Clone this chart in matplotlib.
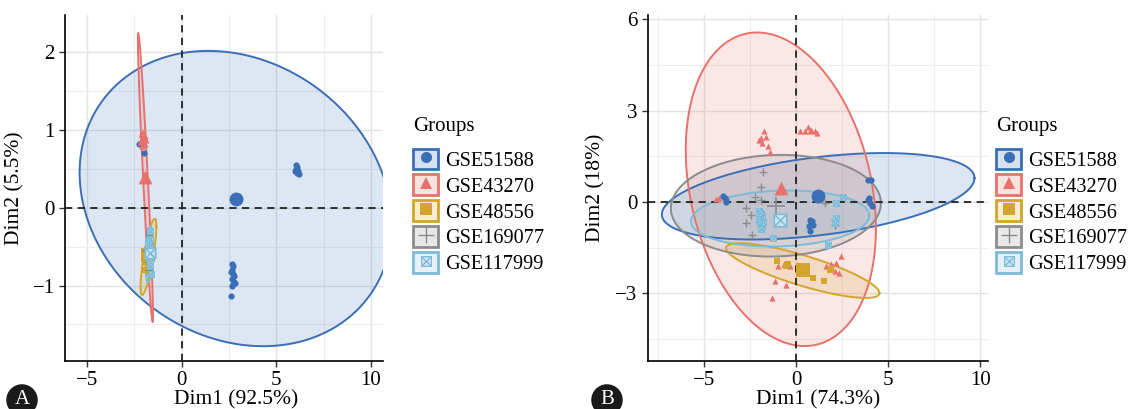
import numpy as np
import matplotlib
matplotlib.use("Agg")
import matplotlib.pyplot as plt
from matplotlib.path import Path
from matplotlib.patches import Rectangle
from matplotlib.lines import Line2D
from matplotlib.legend_handler import HandlerTuple

plt.rcParams['font.family'] = ['Liberation Serif', 'DejaVu Serif']

# ---------------- data ----------------
groups = ["GSE51588", "GSE43270", "GSE48556", "GSE169077", "GSE117999"]
colors = ["#3A6FB8", "#E8716B", "#D4A52C", "#8C8C8C", "#7DBCD9"]

# Panel A individual points
a_x = {
    "GSE51588": [-2.25, -2.0, 2.65, 2.72, 2.68, 2.62, 2.70, 2.75, 2.66, 2.78, 2.70, 2.82, 2.68, 2.62,
                 6.05, 6.10, 6.02, 6.12, 6.08, 6.20, 6.00],
    "GSE43270": [-2.15, -2.05, -1.95, -2.10, -2.00, -1.90, -2.20, -2.05, -1.95, -2.12],
    "GSE48556": [-1.85, -1.80, -1.75, -1.90, -1.80, -1.70, -1.95],
    "GSE169077": [-1.75, -1.72, -1.80, -1.70, -1.78, -1.75, -1.68],
    "GSE117999": [-1.70, -1.68, -1.75, -1.65, -1.72, -1.70, -1.62, -1.78, -1.66],
}
a_y = {
    "GSE51588": [0.82, 0.71, -0.72, -0.75, -0.80, -0.83, -0.85, -0.88, -0.92, -0.95, -0.98, -0.97, -1.00, -1.13,
                 0.55, 0.52, 0.50, 0.47, 0.45, 0.43, 0.47],
    "GSE43270": [0.95, 0.97, 0.93, 0.90, 0.88, 0.87, 0.85, 0.83, 0.82, 0.80],
    "GSE48556": [-0.55, -0.60, -0.65, -0.70, -0.75, -0.50, -0.80],
    "GSE169077": [-0.35, -0.45, -0.50, -0.60, -0.70, -0.80, -0.55],
    "GSE117999": [-0.30, -0.40, -0.50, -0.55, -0.65, -0.75, -0.85, -0.45, -0.70],
}
# Panel A group centres (mean points)
a_cx = [2.85, -1.96, -1.78, -1.74, -1.70]
a_cy = [0.12, 0.40, -0.61, -0.55, -0.58]
# Panel A confidence ellipses: centre, sd x, sd y, correlation
a_ex = [2.85, -1.92, -1.76, -1.74, -1.72]
a_ey = [0.12, 0.39, -0.63, -0.55, -0.60]
a_sx = [8.25, 0.40, 0.42, 0.15, 0.20]
a_sy = [1.90, 1.86, 0.49, 0.30, 0.36]
a_r = [-0.176, -0.95, 0.79, 0.30, 0.30]

# Panel B individual points
b_x = {
    "GSE51588": [-4.0, -3.82, -3.9, -3.82, 0.73, 0.82, 0.91, 0.69, 0.87, 0.73,
                 3.91, 4.04, 3.91, 4.00, 4.09, 3.96],
    "GSE43270": [-2.0, -1.73, -1.64, -1.85, -1.55, -1.45, -1.9,
                 0.18, 0.45, 0.64, 0.82, 1.0, 1.13, 0.73,
                 -1.18, -1.0, -0.69, -0.58, -1.31, -0.36,
                 1.64, 1.91, 2.18, 2.45, 2.09, 2.33, 1.82,
                 -4.36, -4.2],
    "GSE48556": [-1.05, -0.45, -0.55, 0.91, 1.51, 1.85, 1.91],
    "GSE169077": [-1.82, -1.91, -2.27, -2.73, -2.45, -2.73, -2.40, -1.91, 1.55, 2.09, 2.09],
    "GSE117999": [-2.0, -1.9, -1.85, -2.0, -1.95, -1.85, -1.9, -2.0, -1.8, -1.95,
                  -1.27, 1.73, 2.18, 2.55, 2.15, 2.09],
}
b_y = {
    "GSE51588": [0.19, 0.08, 0.13, 0.0, -0.58, -0.69, -0.74, -0.80, -0.63, -0.96,
                 0.73, 0.73, 0.08, -0.03, -0.14, 0.13],
    "GSE43270": [2.04, 2.32, 2.15, 1.93, 1.83, 1.66, 2.1,
                 2.32, 2.32, 2.48, 2.37, 2.32, 2.26, 2.32,
                 -2.6, -2.11, -2.05, -2.71, -3.15, -2.11,
                 -2.11, -2.05, -2.0, -1.78, -2.27, -2.33, -2.16,
                 0.1, 0.12],
    "GSE48556": [-1.95, -2.05, -2.11, -2.49, -2.60, -2.24, -2.20],
    "GSE169077": [1.0, 0.51, 0.16, -0.20, -0.42, -0.69, -1.07, 0.08, -0.03, -0.58, -0.74],
    "GSE117999": [-0.3, -0.4, -0.5, -0.6, -0.7, -0.8, -0.9, -0.55, -0.65, -0.35,
                  -1.18, -1.40, -0.03, 0.16, -0.52, -0.69],
}
b_cx = [1.18, -0.85, 0.36, -1.09, -0.91]
b_cy = [0.19, 0.46, -2.24, -0.14, -0.58]
b_ex = [1.19, -0.84, 0.35, -1.11, -0.88]
b_ey = [0.19, 0.42, -2.25, -0.12, -0.54]
b_sx = [8.50, 5.17, 4.17, 5.71, 4.85]
b_sy = [1.42, 5.15, 0.90, 1.67, 0.92]
b_r = [0.42, -0.25, -0.82, 0.05, 0.10]

# ---------------- styling helpers ----------------
boxx = Path([(-1, -1), (1, -1), (1, 1), (-1, 1), (-1, -1), (1, 1), (-1, 1), (1, -1)],
            [Path.MOVETO, Path.LINETO, Path.LINETO, Path.LINETO, Path.LINETO,
             Path.LINETO, Path.MOVETO, Path.LINETO])
markers = ["o", "^", "s", "+", boxx]


def draw_points(ax, i, xs, ys, size, lw=1.0):
    c = colors[i]
    m = markers[i]
    if i == 3:
        ax.scatter(xs, ys, marker="+", s=size * 1.6, c=c, linewidths=lw, zorder=5)
    elif i == 4:
        ax.scatter(xs, ys, marker=boxx, s=size * 0.8, facecolors="#CFE6F1", edgecolors=c,
                   linewidths=lw, zorder=5)
    else:
        ax.scatter(xs, ys, marker=m, s=size, c=c, linewidths=0, zorder=5)


def draw_ellipse(ax, i, cx, cy, sx, sy, r):
    t = np.linspace(0, 2 * np.pi, 300)
    x = cx + sx * np.cos(t)
    y = cy + sy * (r * np.cos(t) + np.sqrt(1 - r * r) * np.sin(t))
    ax.fill(x, y, facecolor=colors[i], alpha=0.17, edgecolor="none", zorder=2)
    ax.plot(x, y, color=colors[i], lw=1.4, zorder=3)


def style_axes(ax, xlim, ylim, xmaj, ymaj, xmin, ymin):
    ax.set_xlim(*xlim)
    ax.set_ylim(*ylim)
    ax.set_xticks(xmaj)
    ax.set_yticks(ymaj)
    ax.set_xticks(xmin, minor=True)
    ax.set_yticks(ymin, minor=True)
    ax.grid(True, which="major", color="#E3E3E3", lw=1.0, zorder=0)
    ax.grid(True, which="minor", color="#EDEDED", lw=0.8, zorder=0)
    ax.set_axisbelow(True)
    for s in ["top", "right"]:
        ax.spines[s].set_visible(False)
    for s in ["left", "bottom"]:
        ax.spines[s].set_linewidth(1.2)
    ax.tick_params(which="major", length=4, width=1, labelsize=15, color="#333333")
    ax.tick_params(which="minor", length=0)
    ax.axhline(0, color="#222222", ls=(0, (4, 3)), lw=1.3, zorder=4)
    ax.axvline(0, color="#222222", ls=(0, (4, 3)), lw=1.3, zorder=4)


def legend_handles():
    hs = []
    for i in range(5):
        patch = Rectangle((0, 0), 1, 1, facecolor=colors[i], alpha=0.2, edgecolor="none")
        edge = Rectangle((0, 0), 1, 1, facecolor="none", edgecolor=colors[i], lw=2)
        if i == 3:
            mk = Line2D([], [], marker="+", color=colors[i], ls="", markersize=12, mew=1.0)
        elif i == 4:
            mk = Line2D([], [], marker=boxx, color=colors[i], ls="", markersize=7, mew=0.9,
                        markerfacecolor="#CFE6F1")
        else:
            mk = Line2D([], [], marker=markers[i], color=colors[i], ls="", markersize=8, mew=0)
        hs.append((patch, edge, mk))
    return hs


fig = plt.figure(figsize=(11.29, 4.09), dpi=100)
axA = fig.add_axes([0.0576, 0.1174, 0.2817, 0.8456])
axB = fig.add_axes([0.574, 0.1174, 0.3012, 0.8456])

# Panel A
for i, g in enumerate(groups):
    draw_ellipse(axA, i, a_ex[i], a_ey[i], a_sx[i], a_sy[i], a_r[i])
for i, g in enumerate(groups):
    draw_points(axA, i, a_x[g], a_y[g], 20)
    draw_points(axA, i, [a_cx[i]], [a_cy[i]], 100 if i < 3 else 70, lw=1.2)
style_axes(axA, (-6.17, 10.64), (-1.97, 2.48), [-5, 0, 5, 10], [-1, 0, 1, 2],
           [-2.5, 2.5, 7.5], [-1.5, -0.5, 0.5, 1.5])
axA.set_xlabel("Dim1 (92.5%)", fontsize=15.5)
axA.xaxis.set_label_coords(0.538, -0.126)
axA.xaxis.label.set_va("baseline")
axA.set_ylabel("Dim2 (5.5%)", fontsize=15.5)
axA.yaxis.set_label_coords(-0.126, 0.5)

# Panel B
for i, g in enumerate(groups):
    draw_ellipse(axB, i, b_ex[i], b_ey[i], b_sx[i], b_sy[i], b_r[i])
for i, g in enumerate(groups):
    draw_points(axB, i, b_x[g], b_y[g], 20)
    draw_points(axB, i, [b_cx[i]], [b_cy[i]], 100, lw=1.2)
style_axes(axB, (-8.06, 10.43), (-5.22, 6.14), [-5, 0, 5, 10], [-3, 0, 3, 6],
           [-7.5, -2.5, 2.5, 7.5], [-4.5, -1.5, 1.5, 4.5])
axB.set_xlabel("Dim1 (74.3%)", fontsize=15.5)
axB.xaxis.set_label_coords(0.5, -0.126)
axB.xaxis.label.set_va("baseline")
axB.set_ylabel("Dim2 (18%)", fontsize=15.5)
axB.yaxis.set_label_coords(-0.126, 0.5)

# Legends
for xa in [413 / 1129, 996 / 1129]:
    leg = fig.legend(legend_handles(), groups, loc="upper left",
                     bbox_to_anchor=(xa, 1 - 117 / 409), frameon=False,
                     handler_map={tuple: HandlerTuple(ndivide=1)},
                     title="Groups", title_fontsize=15, fontsize=14.6,
                     handlelength=1.25, handleheight=1.2, labelspacing=0.18,
                     handletextpad=0.35, borderpad=0, borderaxespad=0,
                     alignment="left")
    leg._legend_box.sep = 9

# Panel labels
for xl, lab in [(22, "A"), (607, "B")]:
    fig.text(xl / 1129, 1 - 400 / 409, lab, color="white", fontsize=15,
             ha="center", va="center",
             bbox=dict(boxstyle="circle,pad=0.3", fc="#1a1a1a", ec="none"))

fig.savefig("out.png", dpi=100)
